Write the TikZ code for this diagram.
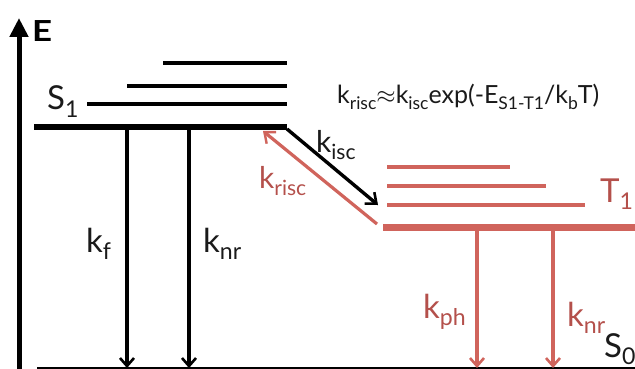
\documentclass[tikz,border=0pt]{standalone}
\usepackage{fontspec}
\usepackage{graphicx}
\setmainfont{Lato}
\usetikzlibrary{arrows.meta}
\definecolor{tred}{HTML}{D0645C}
\definecolor{tlab}{HTML}{B4504B}
\definecolor{ink}{HTML}{1A1A1A}
\newcommand\lo[1]{\raisebox{-0.24em}{\scalebox{0.7}{#1}}}
\begin{document}
\begin{tikzpicture}[x=1pt,y=-1pt,
  thick level/.style={line width=6.5pt},
  thin level/.style={line width=3.2pt},
  decay/.style={line width=3.6pt,-{Straight Barb[length=8pt,width=14pt,line width=2.6pt]}},
  lab/.style={inner sep=0pt,font=\fontsize{33}{33}\selectfont,text=ink},
  slab/.style={lab,font=\fontsize{30}{30}\selectfont},
  rlab/.style={lab,text=tlab},
  formula/.style={inner sep=0pt,font=\fontsize{25}{25}\selectfont,text=ink}]
\useasboundingbox (0,0) rectangle (635,369);
% axis
\coordinate (ax0) at (19,369);
\coordinate (ax1) at (19,18);
\draw[line width=5pt,-{Triangle[length=19pt,width=18pt]}] (ax0) -- (ax1);
\node[inner sep=0pt,anchor=base west,font=\bfseries\fontsize{29}{29}\selectfont] (E) at (32,42) {\scalebox{1.2}[1]{E}};
% ground
\draw[line width=2.4pt] (37,368) -- (635,368);
% S1 manifold
\draw[thick level] (34,127) -- (287,127);
\draw[thin level] (87,104) -- (287,104);
\draw[thin level] (127,86) -- (287,86);
\draw[thin level] (163,63) -- (287,63);
\node[lab,anchor=base west] (S1) at (47,110) {S\lo{1}};
% T1 manifold
\draw[thick level,tred,line width=7pt] (383,227) -- (635,227);
\draw[thin level,tred,line width=3.6pt] (387,205) -- (585,205);
\draw[thin level,tred,line width=3.6pt] (387,186) -- (546,186);
\draw[thin level,tred,line width=3.6pt] (387,167) -- (510,167);
\node[rlab,anchor=base west] (T1) at (600,202) {T\lo{1}};
\node[lab,anchor=base west] (S0) at (604,357) {S\lo{0}};
% decay arrows
\coordinate (kfTop) at (127,129);
\coordinate (kfBot) at (127,368);
\coordinate (knrTop) at (189,129);
\coordinate (knrBot) at (189,368);
\coordinate (kphTop) at (477,229);
\coordinate (kphBot) at (477,368);
\coordinate (knr2Top) at (553,229);
\coordinate (knr2Bot) at (553,368);
\draw[decay] (kfTop) -- (kfBot);
\draw[decay] (knrTop) -- (knrBot);
\draw[decay,tred] (kphTop) -- (kphBot);
\draw[decay,tred] (knr2Top) -- (knr2Bot);
% ISC / RISC
\coordinate (iscA) at (287,129);
\coordinate (iscB) at (378,205);
\coordinate (riscA) at (377,224);
\coordinate (riscB) at (263,131);
\draw[line width=3.4pt,-{Straight Barb[length=9pt,width=15pt,line width=2.6pt]}] (iscA) -- (iscB);
\draw[line width=3.2pt,tred,-{Straight Barb[length=9pt,width=15pt,line width=2.4pt]}] (riscA) -- (riscB);
% labels
\node[lab,anchor=base west] (lkf) at (86,252) {k\lo{f}};
\node[lab,anchor=base west] (lknr) at (203,252) {k\lo{nr}};
\node[rlab,anchor=base west] (lkph) at (423,318) {k\lo{ph}};
\node[rlab,anchor=base west] (lknr2) at (567,326) {k\lo{nr}};
\node[slab,anchor=base west] (lkisc) at (316,152) {k\lo{isc}};
\node[slab,text=tlab,anchor=base west] (lkrisc) at (259,188) {k\lo{risc}};
\node[formula,anchor=base west] (form) at (337,103) {k\lo{risc}$\approx$k\lo{isc}exp(-E\lo{S1-T1}/k\lo{b}T)};
\end{tikzpicture}
\end{document}
